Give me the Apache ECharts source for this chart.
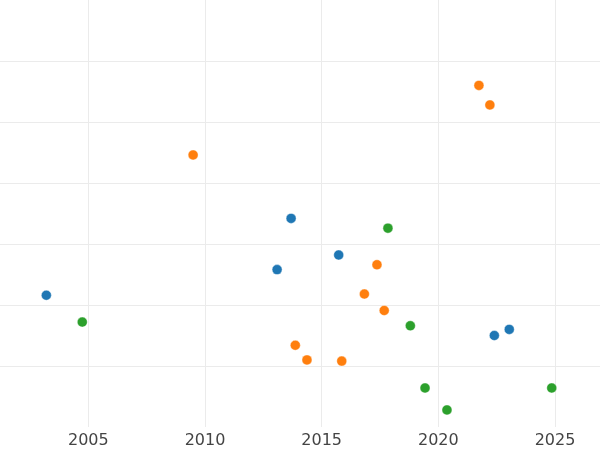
<!DOCTYPE html>
<html>
<head>
<meta charset="utf-8">
<script src="https://cdn.jsdelivr.net/npm/echarts@6/dist/echarts.min.js"></script>
<style>html,body{margin:0;padding:0;background:#fff}#c{width:600px;height:450px}</style>
</head>
<body>
<div id="c"></div>
<script>
const xTicks = [2000, 2005, 2010, 2015, 2020, 2025, 2030];
const blueX = [2003.20, 2013.09, 2013.69, 2015.73, 2022.40, 2023.04];
const blueY = [2.16, 2.58, 3.42, 2.82, 1.50, 1.60];
const orangeX = [2009.49, 2013.87, 2014.37, 2015.86, 2016.83, 2017.37, 2017.68, 2021.74, 2022.21];
const orangeY = [4.46, 1.34, 1.10, 1.08, 2.18, 2.66, 1.91, 5.60, 5.28];
const greenX = [2004.74, 2017.84, 2018.80, 2019.43, 2020.37, 2024.86];
const greenY = [1.72, 3.26, 1.66, 0.64, 0.28, 0.64];

const zip = (xs, ys) => xs.map((x, i) => [x, ys[i]]);
const chart = echarts.init(document.getElementById('c'), null, {renderer: 'canvas'});
const mk = (name, xs, ys, color) => ({
  name, type: 'scatter', data: zip(xs, ys), symbolSize: 10,
  itemStyle: {color: color, opacity: 1, borderColor: '#ffffff', borderWidth: 0.4},
  emphasis: {disabled: true}
});
chart.setOption({
  animation: false,
  backgroundColor: '#ffffff',
  grid: {left: -28.33, width: 700, top: 0, height: 427, containLabel: false, outerBoundsMode: 'none'},
  xAxis: {
    type: 'value', min: xTicks[0], max: xTicks[xTicks.length - 1], interval: 5,
    axisLine: {show: false}, axisTick: {show: false},
    axisLabel: {color: '#444444', fontSize: 16, fontFamily: 'DejaVu Sans', margin: 6, formatter: v => String(v)},
    splitLine: {show: true, lineStyle: {color: '#ebebeb', width: 1}}
  },
  yAxis: {
    type: 'value', min: 0, max: 7, interval: 1,
    axisLine: {show: false}, axisTick: {show: false}, axisLabel: {show: false},
    splitLine: {show: true, showMinLine: false, showMaxLine: false, lineStyle: {color: '#ebebeb', width: 1}}
  },
  series: [
    mk('blue', blueX, blueY, '#1f77b4'),
    mk('orange', orangeX, orangeY, '#ff7f0e'),
    mk('green', greenX, greenY, '#2ca02c')
  ]
});
</script>
</body>
</html>
